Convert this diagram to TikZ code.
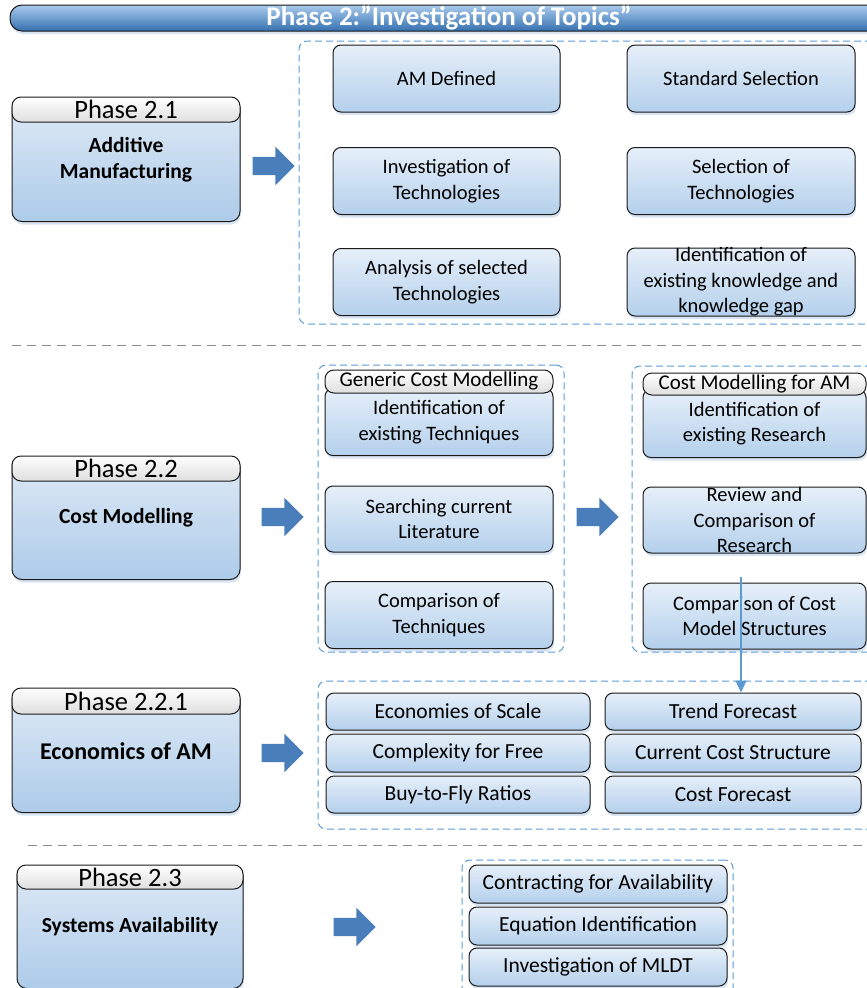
\documentclass[tikz,border=0pt]{standalone}
\usepackage{fontspec}
\setmainfont{Carlito}
\usetikzlibrary{shapes.arrows,shadows,arrows.meta}

\definecolor{edge}{HTML}{1A1A1A}
\definecolor{boxtop}{HTML}{E6EFF9}
\definecolor{boxbot}{HTML}{B4D0EC}
\definecolor{phtop}{HTML}{DFEAF6}
\definecolor{phbot}{HTML}{ADCBE9}
\definecolor{taggray}{HTML}{DEDEDE}
\definecolor{frameblue}{HTML}{5B9BD5}
\definecolor{arrowblue}{HTML}{4A7EBB}
\definecolor{bartop}{HTML}{A9CBEC}
\definecolor{barbot}{HTML}{3570B0}
\definecolor{shadowblue}{HTML}{9DBBDD}
\definecolor{sepgray}{HTML}{8C8C8C}

\newcommand{\boxfont}{\fontsize{20.5}{25.5}\selectfont}
\newcommand{\smallboxfont}{\fontsize{21.5}{25.5}\selectfont}
\newcommand{\tagfont}{\fontsize{26.5}{28}\selectfont}
\newcommand{\phasefont}{\bfseries\fontsize{21.5}{26}\selectfont}

\tikzset{
  x=1pt, y=-1pt,
  soft/.style={drop shadow={opacity=0.4, fill=shadowblue, shadow xshift=1pt, shadow yshift=-3pt}},
  box/.style={draw=edge, line width=1pt, rounded corners=8pt, top color=boxtop,
    bottom color=boxbot, soft, inner sep=0pt, align=center, font=\boxfont},
  slim/.style={box, font=\smallboxfont},
  subtag/.style={draw=edge, line width=1pt, rounded corners=9pt, top color=white,
    bottom color=taggray, inner sep=0pt, font=\fontsize{21}{25}\selectfont},
  tag/.style={subtag, font=\tagfont},
  phasebody/.style={box, rounded corners=10pt, top color=phtop, bottom color=phbot,
    minimum width=228pt, minimum height=123pt, font=\phasefont},
  frame/.style={draw=frameblue, line width=1pt, dash pattern=on 7pt off 4pt,
    rounded corners=8pt, inner sep=0pt},
  blockarrow/.style={single arrow, fill=arrowblue, draw=none, inner sep=0pt,
    text height=9pt, text depth=9pt, text width=0pt,
    minimum height=42pt, single arrow head extend=10pt},
  conn/.style={draw=frameblue, line width=1.1pt, -{Triangle[length=12pt,width=11pt]}},
  sepline/.style={draw=sepgray, line width=1pt, dash pattern=on 9pt off 6pt},
  overlay text/.style={align=center, font=\boxfont, inner sep=0pt}
}

\begin{document}
\begin{tikzpicture}
\useasboundingbox (0,0) rectangle (867,988);

% title bar
\node[draw=edge, line width=1pt, rounded corners=12pt, top color=bartop, bottom color=barbot,
  soft, minimum width=878pt, minimum height=26pt, inner sep=0pt, text=white,
  font=\fontsize{27}{28}\selectfont\bfseries] (title) at (449,18) {Phase 2:”Investigation of Topics”};

% dashed frames
\node[frame, minimum width=581pt, minimum height=283pt] (f1) at (589.5,182.5) {};
\node[frame, minimum width=246pt, minimum height=287pt] (f2) at (441,508.5) {};
\node[frame, minimum width=248pt, minimum height=286pt] (f3) at (756,509) {};
\node[frame, minimum width=562pt, minimum height=148pt] (f4) at (599,755) {};
\node[frame, minimum width=271pt, minimum height=150pt] (f5) at (597.5,935) {};

% section separators
\draw[sepline] (12,345) -- (867,345);
\draw[sepline] (28,845) -- (867,845);

% ---------- Phase 2.1 ----------
\node[phasebody] (p1) at (126,160) {Additive\\Manufacturing};
\node[tag, minimum width=228pt, minimum height=25pt] (p1h) at (126,109.5) {Phase 2.1};
\node[blockarrow] (a1) at (269,166) {};

\node[box, minimum width=227pt, minimum height=67pt] (b11) at (446.5,78.5) {AM Defined};
\node[box, minimum width=227pt, minimum height=67pt] (b12) at (446.5,181) {Investigation of\\Technologies};
\node[box, minimum width=227pt, minimum height=67pt] (b13) at (446.5,282) {Analysis of selected\\Technologies};
\node[box, minimum width=228pt, minimum height=67pt] (b21) at (741,78.5) {Standard Selection};
\node[box, minimum width=228pt, minimum height=67pt] (b22) at (741,181) {Selection of\\Technologies};
\node[box, minimum width=228pt, minimum height=68pt] (b23) at (741,282) {};
\node[overlay text] at (b23.center) {Identification of\\existing knowledge and\\knowledge gap};

% ---------- Phase 2.2 ----------
\node[phasebody] (p2) at (126,518) {Cost Modelling};
\node[tag, minimum width=228pt, minimum height=25pt] (p2h) at (126,468.5) {Phase 2.2};
\node[blockarrow] (a2) at (278,517) {};
\node[blockarrow] (a3) at (593,517) {};

\node[box, minimum width=228pt, minimum height=67pt] (c11) at (439,422) {Identification of\\existing Techniques};
\node[subtag, minimum width=228pt, minimum height=23pt] (c11h) at (439,381.5) {Generic Cost Modelling};
\node[box, minimum width=228pt, minimum height=66pt] (c12) at (439,519) {Searching current\\Literature};
\node[box, minimum width=228pt, minimum height=67pt] (c13) at (439,615) {Comparison of\\Techniques};

\node[box, minimum width=223pt, minimum height=68pt] (c21) at (754.5,423.5) {Identification of\\existing Research};
\node[subtag, minimum width=223pt, minimum height=22pt] (c21h) at (754.5,384) {Cost Modelling for AM};
\node[box, minimum width=223pt, minimum height=66pt] (c22) at (754.5,520) {};
\node[overlay text] at (c22.center) {Review and\\Comparison of\\Research};
\node[box, minimum width=223pt, minimum height=66pt] (c23) at (754.5,616) {Comparison of Cost\\Model Structures};

% ---------- Phase 2.2.1 ----------
\node[phasebody, font=\bfseries\fontsize{24}{28}\selectfont] (p3) at (126,751) {Economics of AM};
\node[tag, minimum width=228pt, minimum height=26pt] (p3h) at (126,701) {Phase 2.2.1};
\node[blockarrow] (a4) at (278,753) {};

\node[slim, minimum width=264pt, minimum height=37pt] (d11) at (458,711.5) {Economies of Scale};
\node[slim, minimum width=264pt, minimum height=38pt] (d12) at (458,753) {Complexity for Free};
\node[slim, minimum width=264pt, minimum height=37pt] (d13) at (458,794.5) {Buy-to-Fly Ratios};
\node[slim, minimum width=256pt, minimum height=37pt] (d21) at (733,711.5) {Trend Forecast};
\node[slim, minimum width=256pt, minimum height=38pt] (d22) at (733,753) {Current Cost Structure};
\node[slim, minimum width=256pt, minimum height=37pt] (d23) at (733,794.5) {Cost Forecast};

% link from the AM cost research down to the economics topics
\coordinate (linkstart) at (741,577);
\draw[conn] (linkstart) -- (linkstart |- d21.north);

% ---------- Phase 2.3 ----------
\node[phasebody, minimum width=226pt] (p4) at (130,927) {Systems Availability};
\node[tag, minimum width=226pt, minimum height=24pt] (p4h) at (130,877) {Phase 2.3};
\node[blockarrow] (a5) at (350,927) {};

\node[slim, minimum width=258pt, minimum height=38pt] (e1) at (598,884) {Contracting for Availability};
\node[slim, minimum width=258pt, minimum height=38pt] (e2) at (598,926) {Equation Identification};
\node[slim, minimum width=258pt, minimum height=38pt] (e3) at (598,967) {Investigation of MLDT};
\end{tikzpicture}
\end{document}
